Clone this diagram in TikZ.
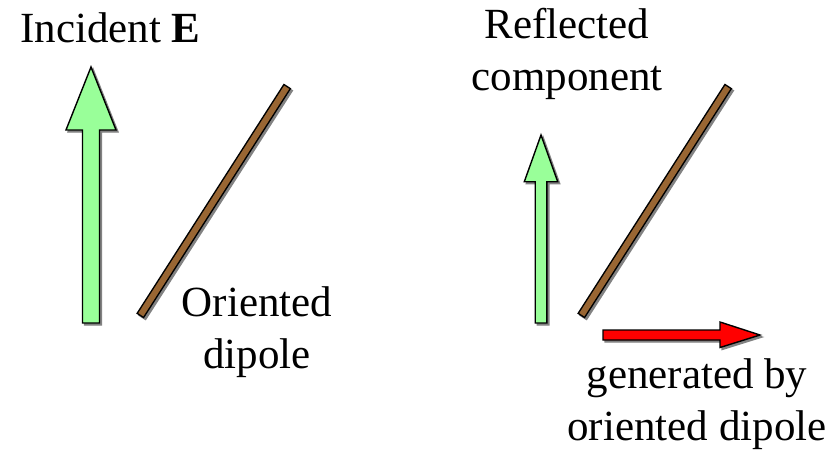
\documentclass[tikz,border=0pt]{standalone}
\usepackage{fontspec}
\setmainfont{Liberation Serif}
\definecolor{fieldgreen}{RGB}{153,255,153}
\definecolor{dipolebrown}{RGB}{153,102,51}
\definecolor{shadowgrey}{RGB}{130,130,130}
\begin{document}
\begin{tikzpicture}[x=1pt, y=-1pt,
    every node/.style={font=\fontsize{43}{52}\selectfont, align=center, inner sep=0pt},
    greenarrow/.style={draw=black, fill=fieldgreen, line width=1.4pt, line join=miter},
    redarrow/.style={draw=black, fill=red, line width=1.4pt, line join=miter},
    shadowcopy/.style={draw=shadowgrey, fill=shadowgrey, line width=1.4pt, shift={(2,2)}}]
    \useasboundingbox (0,0) rectangle (834,452);
    % incident and reflected field arrows
    \foreach \tx/\ty/\hh/\hs/\hy/\by in {91/67/25/8.5/130/323, 541/135/16.7/5.8/181.7/323} {
        \foreach \look in {shadowcopy, greenarrow} {
            \path[\look] (\tx,\ty) -- (\tx+\hh,\hy) -- (\tx+\hs,\hy) -- (\tx+\hs,\by)
                -- (\tx-\hs,\by) -- (\tx-\hs,\hy) -- (\tx-\hh,\hy) -- cycle;
        }
    }
    % the two dipoles
    \foreach \x in {0, 441} {
        \draw[shadowgrey, line width=9pt, shift={(\x+2,2)}] (140,316) -- (287.5,86);
        \draw[black, line width=9pt, shift={(\x,0)}] (140,316) -- (287.5,86);
        \draw[dipolebrown, line width=6pt, shorten <=1.5pt, shorten >=1.5pt, shift={(\x,0)}] (140,316) -- (287.5,86);
    }
    % generated component
    \foreach \look in {shadowcopy, redarrow} {
        \path[\look] (603,330) -- (720,330) -- (720,322) -- (760,335) -- (720,347.5)
            -- (720,340) -- (603,340) -- cycle;
    }
    % labels (base = baseline of the last line)
    \node[anchor=base west] (incident) at (20,42) {Incident \textbf{E}};
    \node[anchor=base] (reflected) at (567,90) {Reflected\\component};
    \node[anchor=base] (oriented) at (257,368) {Oriented\\dipole};
    \node[anchor=base] (generated) at (697,440) {generated by\\oriented dipole};
\end{tikzpicture}
\end{document}
